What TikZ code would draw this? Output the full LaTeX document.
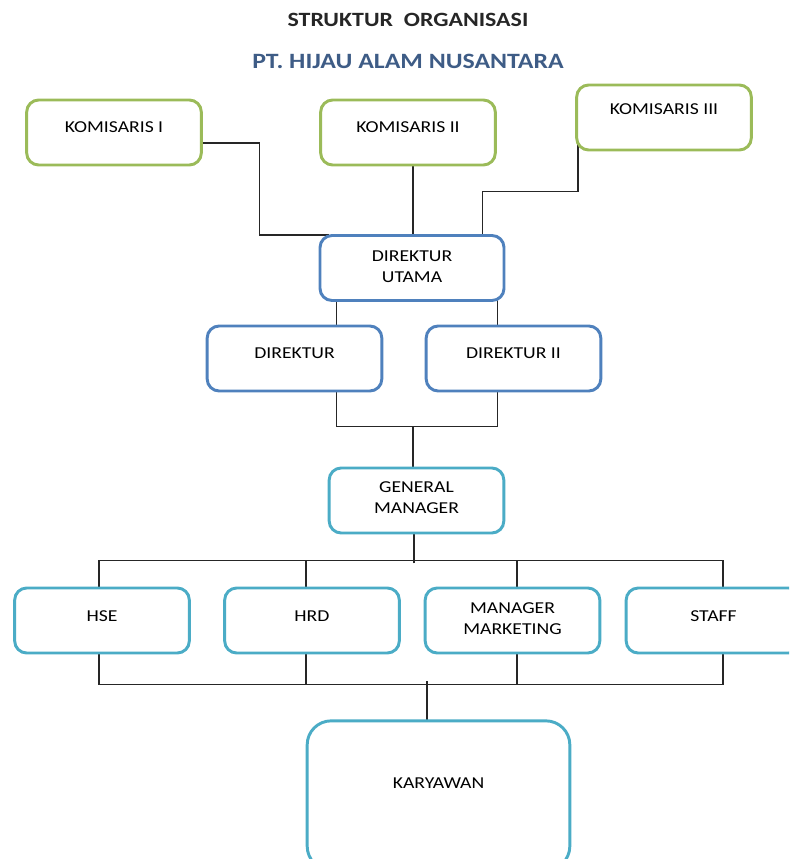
\documentclass[tikz,border=0pt]{standalone}
\usepackage{fontspec}
\setmainfont{Carlito}[FakeStretch=1.18]
\usepackage{tikz}
\usetikzlibrary{positioning, calc, backgrounds}

\definecolor{komgreen}{HTML}{9BBB59}
\definecolor{dirblue}{HTML}{4F81BD}
\definecolor{mgrcyan}{HTML}{4BACC6}
\definecolor{subblue}{HTML}{3E5C86}

\begin{document}
\begin{tikzpicture}[
  x=0.75pt, y=-0.75pt,
  box/.style={draw, rounded corners=9pt, line width=2.2pt, fill=white, minimum width=131pt, minimum height=48.75pt, align=center, text height=8pt, text depth=#1, inner sep=2pt, font=\fontsize{12.5}{15.75}\selectfont},
  box/.default=7.5pt,
  two/.style={text height=23.75pt, text depth=#1},
  kom/.style={box=#1, draw=komgreen},
  kom/.default=8pt,
  dir/.style={box=#1, draw=dirblue},
  dir/.default=8pt,
  mgr/.style={box=#1, draw=mgrcyan},
  mgr/.default=7pt,
  link/.style={line width=1.1pt, draw=black!85}
]
\useasboundingbox (0,0) rectangle (789,859);
\clip (0,0) rectangle (789,859);

% titles
\node[font=\bfseries\fontsize{15.2}{18}\selectfont, text=black!85] (title) at (408,20) {STRUKTUR\ \ ORGANISASI};
\node[font=\bfseries\fontsize{16.4}{19}\selectfont, text=subblue] (subtitle) at (408,61) {PT. HIJAU ALAM NUSANTARA};

% komisaris
\node[kom] (k1) at (114,132.5) {KOMISARIS I};
\node[kom] (k2) at (408,132.5) {KOMISARIS II};
\node[kom=12.8pt] (k3) at (664,117.5) {KOMISARIS III};

% direksi
\node[dir, two=2.2pt, minimum width=138pt] (du) at (412,268) {DIREKTUR\\UTAMA};
\node[dir] (d1) at (294.5,358.5) {DIREKTUR};
\node[dir] (d2) at (513.5,358.5) {DIREKTUR II};

% manager dan staf
\node[mgr, two=3.8pt] (gm) at (416.5,500.5) {GENERAL\\MANAGER};
\node[mgr] (hse) at (102,620.5) {HSE};
\node[mgr] (hrd) at (312,620.5) {HRD};
\node[mgr, two=3pt] (mm) at (512.5,620.5) {MANAGER\\MARKETING};
\node[mgr] (staff) at (713.5,620.5) {STAFF};
\node[mgr=18.8pt, minimum width=197pt, minimum height=112pt, rounded corners=18pt] (kar) at (438.5,795.5) {KARYAWAN};

% garis
\begin{scope}[on background layer]
\draw[link] ($(k1.east)+(0,10.5)$) -| ($(du.north west)+(-59,1)$) -- ($(du.north west)+(10,1)$);
\draw[link] ($(du.center)+(1,0)$) -- ($(du.center |- k2.center)+(1,0)$);
\draw[link] ($(du.north east)+(-23,10)$) |- ($(k3.south west)+(3,40)$) -- ($(k3.south west)+(3,-10)$);

\coordinate (ja) at ($(du.south west)+(18,0)$);
\coordinate (jb) at ($(du.south east)+(-8,0)$);
\coordinate (jm) at ($(gm.north)+(-3.5,-40)$);
\draw[link] (ja |- du.center) -- (ja |- d1.center);
\draw[link] (jb |- du.center) -- (jb |- d2.center);
\draw[link] (ja |- d1.center) |- (jm) -| (jb |- d2.center);
\draw[link] (jm) -- (jm |- gm.center);

\coordinate (tb) at ($(gm.south)+(-2.5,29)$);
\coordinate (bb) at ($(kar.north)+(-11.5,-38)$);
\draw[link] (tb) -- (tb |- gm.center);
\draw[link] ($(hse.center)+(-3,0)$) |- ($(staff.north)+(9.5,-26)$) -- ($(staff.center)+(9.5,0)$);
\draw[link] ($(hse.center)+(-3,0)$) |- ($(staff.south)+(9.5,30)$) -- ($(staff.center)+(9.5,0)$);
\draw[link] ($(hrd.north)+(-6,-26)$) -- ($(hrd.south)+(-6,30)$);
\draw[link] ($(mm.north)+(4.5,-26)$) -- ($(mm.south)+(4.5,30)$);
\draw[link] (bb) -- (bb |- kar.center);
\end{scope}

\end{tikzpicture}
\end{document}
